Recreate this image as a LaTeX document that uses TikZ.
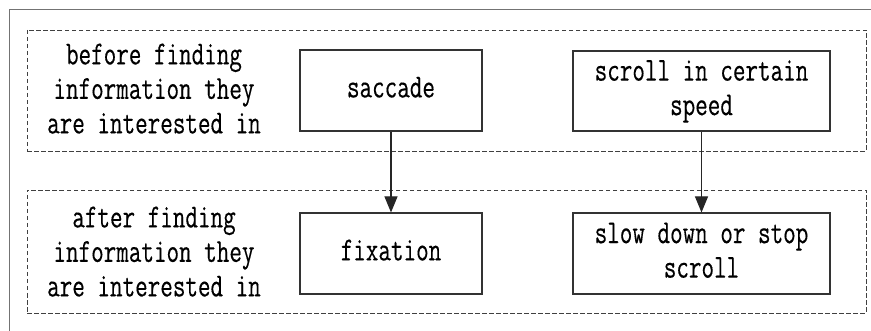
\documentclass[tikz,border=0pt]{standalone}
\usepackage{fontspec}
\usepackage{graphicx}
\usetikzlibrary{arrows.meta}
\newfontfamily\labelfont{Latin Modern Mono}[FakeBold=0.35]
% tall, narrow monospaced lettering
\newcommand{\talltext}[1]{\scalebox{1}[1.38]{\begin{tabular}{@{}c@{}}#1\end{tabular}}}
\tikzset{
  txt/.style={font=\labelfont\fontsize{24.4}{25}\selectfont, align=center, inner sep=0pt},
  stagebox/.style={draw=black!75, line width=0.5pt, dash pattern=on 4.5pt off 2.5pt, inner sep=0pt},
  actbox/.style={draw=black!80, line width=1.1pt, inner sep=0pt, txt},
  flow/.style={draw=black!85, line width=1.1pt, -{Triangle[length=16pt,width=13pt]}},
  frame/.style={draw=black!55, line width=1.6pt}
}
\begin{document}
\begin{tikzpicture}[x=1pt,y=-1pt]
  \useasboundingbox (0,0) rectangle (871,331);
  % outer frame (top and left edges)
  \draw[frame] (9.5,331) -- (9.5,9.5) -- (871,9.5);

  % stage groups
  \node[stagebox, minimum width=839pt, minimum height=121pt] (before) at (446.5,90.5) {};
  \node[stagebox, minimum width=839pt, minimum height=123pt] (after) at (446.5,251.5) {};

  % stage labels
  \node[txt] (lblbefore) at (154,92) {\talltext{before finding\\information they\\are interested in}};
  \node[txt] (lblafter) at (154,255) {\talltext{after finding\\information they\\are interested in}};

  % behaviours
  \node[actbox, minimum width=182pt, minimum height=81pt] (saccade) at (391,90.5) {\talltext{saccade}};
  \node[actbox, minimum width=257pt, minimum height=80pt] (scroll) at (701.5,91) {\talltext{scroll in certain\\speed}};
  \node[actbox, minimum width=182pt, minimum height=81pt] (fixation) at (391,253.5) {\talltext{fixation}};
  \node[actbox, minimum width=257pt, minimum height=81pt] (slow) at (701.5,253.5) {\talltext{slow down or stop\\scroll}};

  % transitions
  \draw[flow] (saccade) -- (fixation);
  \draw[flow] (scroll) -- (slow);
\end{tikzpicture}
\end{document}
